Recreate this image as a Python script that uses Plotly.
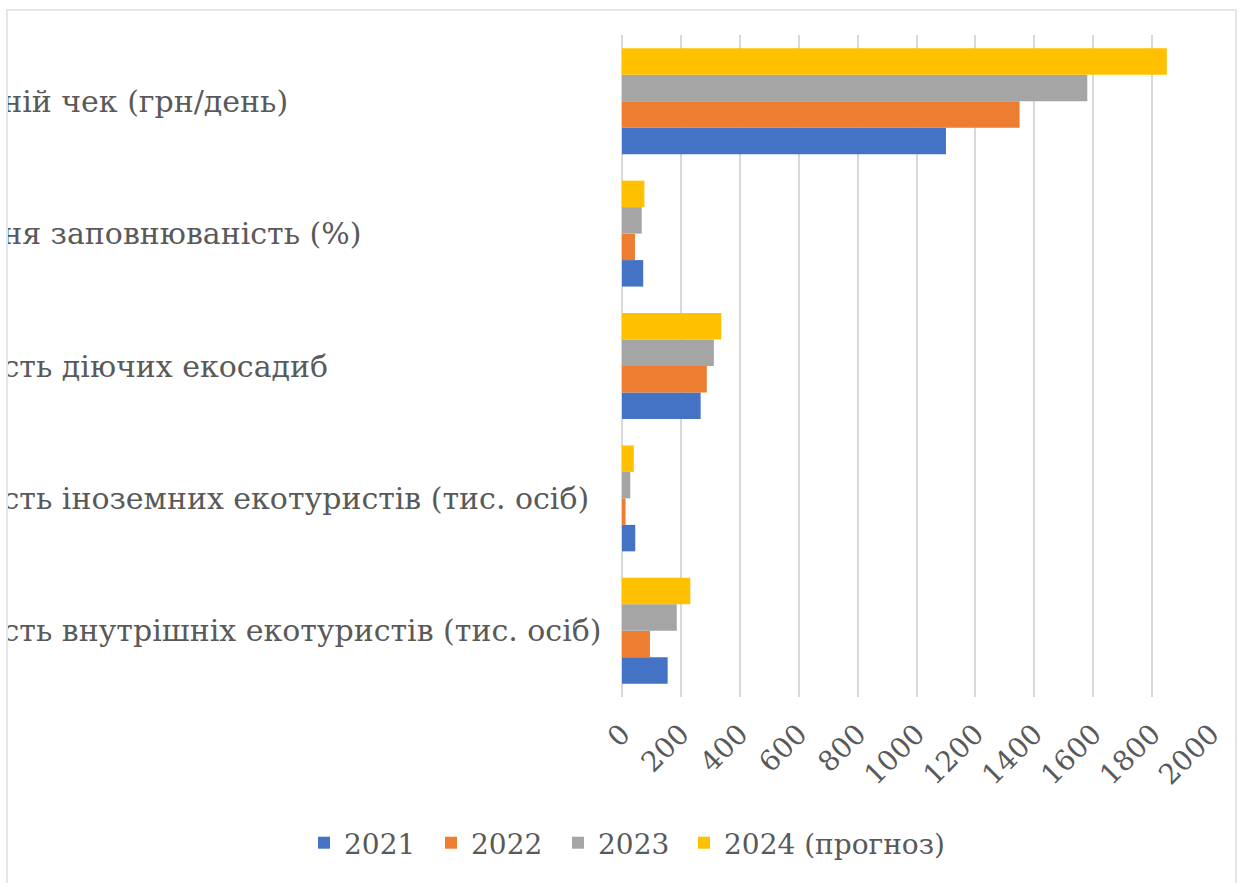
import plotly.graph_objects as go

categories = [
    "Кількість внутрішніх екотуристів (тис. осіб)",
    "Кількість іноземних екотуристів (тис. осіб)",
    "Кількість діючих екосадиб",
    "Середня заповнюваність (%)",
    "Середній чек (грн/день)",
]
series_names = ["2021", "2022", "2023", "2024 (прогноз)"]
v2021 = [155, 45, 267, 72, 1100]
v2022 = [95, 12, 288, 44, 1350]
v2023 = [186, 28, 312, 67, 1580]
v2024 = [232, 40, 337, 76, 1850]
colors = ["#4472C4", "#ED7D31", "#A5A5A5", "#FFC000"]
x_ticks = [0, 200, 400, 600, 800, 1000, 1200, 1400, 1600, 1800, 2000]

W, H = 1240, 883
ML, MR, MT, MB = 622, 29, 35, 186
PW, PH = W - ML - MR, H - MT - MB


def px_x(p):
    return (p - ML) / PW


def px_y(p):
    return (H - MB - p) / PH


font_family = "DejaVu Serif"
text_color = "#595959"

fig = go.Figure()
legend_ids = ["legend", "legend", "legend", "legend2"]
for name, vals, c, lg in zip(series_names, [v2021, v2022, v2023, v2024], colors, legend_ids):
    fig.add_trace(go.Bar(y=categories, x=vals, name=name, orientation="h",
                         legend=lg,
                         marker=dict(color=c, line=dict(width=0))))

annotations = []
for cat in categories:
    annotations.append(dict(text=cat, x=px_x(-96), xref="paper", xanchor="left",
                            y=cat, yref="y", yanchor="middle", showarrow=False,
                            font=dict(size=30, family=font_family, color=text_color)))
# left clipping strip and frame edge
annotations.append(dict(text=" ", x=px_x(0), xref="paper", xanchor="left",
                        y=0.5, yref="paper", yanchor="middle", showarrow=False,
                        width=6, height=H + 40, bgcolor="white", borderpad=0,
                        borderwidth=0))
annotations.append(dict(text=" ", x=px_x(6), xref="paper", xanchor="left",
                        y=px_y(10), yref="paper", yanchor="top", showarrow=False,
                        width=2, height=H + 40, bgcolor="#e6e6e6", borderpad=0,
                        borderwidth=0))

legend_font = dict(size=28, family=font_family, color=text_color)

fig.update_layout(
    width=W, height=H,
    margin=dict(l=ML, r=MR, t=MT, b=MB, autoexpand=False),
    paper_bgcolor="white", plot_bgcolor="white",
    barmode="group", bargap=0.2, bargroupgap=0,
    font=dict(family=font_family, color=text_color),
    showlegend=True,
    legend=dict(orientation="h", xref="paper", yref="paper",
                x=px_x(304), xanchor="left", y=px_y(843), yanchor="middle",
                font=legend_font, itemwidth=30, traceorder="normal",
                entrywidth=82, entrywidthmode="pixels"),
    legend2=dict(orientation="h", xref="paper", yref="paper",
                 x=px_x(684), xanchor="left", y=px_y(843), yanchor="middle",
                 font=legend_font, itemwidth=30, traceorder="normal"),
    xaxis=dict(range=[0, 2000], tickvals=x_ticks, tickangle=-45,
               tickfont=dict(size=28, family=font_family, color=text_color),
               showgrid=True, gridcolor="#d9d9d9", gridwidth=1.5,
               zeroline=True, zerolinecolor="#d9d9d9", zerolinewidth=1.5,
               showline=False, ticks="", automargin=False,
               ticklabelstandoff=14),
    yaxis=dict(categoryorder="array", categoryarray=categories,
               showticklabels=False,
               showgrid=False, zeroline=False, showline=False, ticks="",
               automargin=False),
    annotations=annotations,
    shapes=[
        dict(type="line", xref="paper", yref="paper", layer="above",
             x0=px_x(6), x1=px_x(1237), y0=px_y(10), y1=px_y(10),
             line=dict(color="#e6e6e6", width=2)),
        dict(type="line", xref="paper", yref="paper", layer="above",
             x0=px_x(1236), x1=px_x(1236), y0=px_y(10), y1=px_y(H + 5),
             line=dict(color="#e6e6e6", width=2)),
    ],
)

fig.write_html("out.html", config={"displayModeBar": False},
               post_script="document.body.style.margin='0';")
